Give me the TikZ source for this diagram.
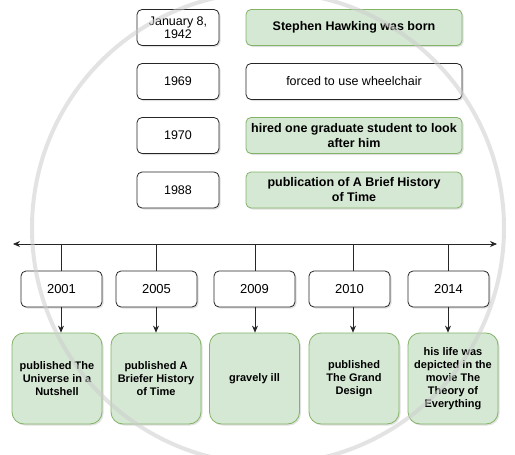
\documentclass[tikz,border=0pt]{standalone}
\usepackage{fontspec}
\setmainfont{Liberation Sans}
\usetikzlibrary{arrows.meta,shadows}
\definecolor{gfill}{RGB}{213,232,212}
\definecolor{gdraw}{RGB}{130,179,102}
\definecolor{wm}{RGB}{205,205,205}
\begin{document}
\begin{tikzpicture}[x=1pt,y=-1pt,
  box/.style={draw=black!85,line width=0.8pt,fill=white,rounded corners=5pt,align=center,inner sep=1pt,
    drop shadow={shadow xshift=1.5pt,shadow yshift=-1.5pt,opacity=0.2,fill=black!60}},
  topbox/.style={box,minimum width=82pt,minimum height=36pt,font=\fontsize{12.5}{13.5}\selectfont},
  evbox/.style={box,minimum width=216pt,minimum height=36pt,font=\fontsize{12.5}{15}\selectfont},
  greenev/.style={evbox,fill=gfill,draw=gdraw,font=\fontsize{12.5}{15}\selectfont\bfseries},
  yearbox/.style={box,minimum width=81pt,minimum height=36pt,font=\fontsize{13}{14}\selectfont},
  gbox/.style={box,fill=gfill,draw=gdraw,rounded corners=12pt,minimum width=90pt,minimum height=91pt,font=\fontsize{11}{13}\selectfont\bfseries},
  line/.style={draw=black!85,line width=0.8pt},
  arr/.style={line,-{Stealth[length=7pt,width=6pt]}}
]
\useasboundingbox (0,0) rectangle (515,455);
\fill[white] (0,0) rectangle (515,455);

% top section
\node[topbox] (d1) at (178,27.5) {January 8,\\1942};
\node[topbox] (d2) at (178,81.5) {1969};
\node[topbox] (d3) at (178,135.5) {1970};
\node[topbox] (d4) at (178,190) {1988};
\node[greenev] (e1) at (354,27.5) {Stephen Hawking was born};
\node[evbox] (e2) at (354,81.5) {forced to use wheelchair};
\node[greenev] (e3) at (354,135.5) {hired one graduate student to look\\after him};
\node[greenev] (e4) at (354,190) {publication of A Brief History\\of Time};

% timeline
\coordinate (L) at (13,244);
\coordinate (R) at (497,244);
\draw[line,{Stealth[length=7pt,width=6pt]}-{Stealth[length=7pt,width=6pt]}] (L) -- (R);
\coordinate (t1) at (61,244);
\coordinate (t2) at (156,244);
\coordinate (t3) at (255,244);
\coordinate (t4) at (353,244);
\coordinate (t5) at (448,244);

\node[yearbox] (y1) at (61.5,289) {2001};
\node[yearbox] (y2) at (156.5,289) {2005};
\node[yearbox] (y3) at (254.5,289) {2009};
\node[yearbox] (y4) at (349.5,289) {2010};
\node[yearbox] (y5) at (448.5,289) {2014};

\node[gbox] (g1) at (57,378.5) {published The\\Universe in a\\Nutshell};
\node[gbox] (g2) at (156,378.5) {published A\\Briefer History\\of Time};
\node[gbox] (g3) at (254.5,378.5) {gravely ill};
\node[gbox] (g4) at (354,378.5) {published\\The Grand\\Design};
\node[gbox] (g5) at (453,378.5) {his life was\\depicted in the\\movie The\\Theory of\\Everything};

\foreach \i in {1,...,5}{
  \draw[line] (t\i) -- (t\i |- y\i.north);
  \draw[arr] (t\i |- y\i.south) -- (t\i |- g\i.north);
}

% watermark ring
\draw[wm,line width=4pt,opacity=0.55] (268,228) circle [radius=236];
\end{tikzpicture}
\end{document}
